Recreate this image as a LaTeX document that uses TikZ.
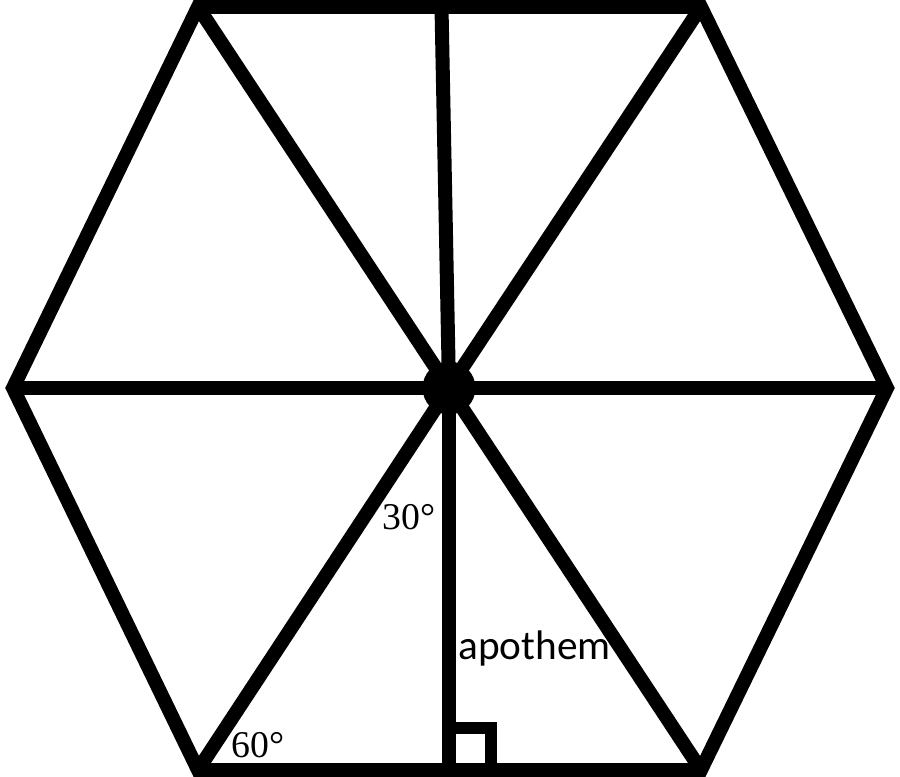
\documentclass[tikz,border=0pt]{standalone}
\usepackage{fontspec}
\setmainfont{Liberation Serif}
\newfontfamily\apofont{Carlito}
\usepackage{tikz}
\usetikzlibrary{shapes,backgrounds}

\tikzset{
	edge/.style={line width=0.28cm},
	hubdot/.style={circle, fill=black, inner sep=0pt, minimum size=1.06cm},
	anglelabel/.style={font=\fontsize{21.5pt}{26pt}\selectfont, inner sep=0pt}
}

\begin{document}
\begin{tikzpicture}[x=0.02cm, y=-0.02cm]
			\useasboundingbox (0, 0) rectangle (900, 777);
			\coordinate (topleft) at (198, 7);
			\coordinate (topright) at (701, 7);
			\coordinate (right) at (887, 388);
			\coordinate (bottomright) at (701, 770);
			\coordinate (bottomleft) at (198, 770);
			\coordinate (left) at (13, 388);
			\coordinate (topmid) at (441.5, 7);
			\coordinate (bottommid) at (449, 770);
			\draw[edge] (topleft) -- (topright) -- (right) -- (bottomright) -- (bottomleft) -- (left) -- cycle;
			\node[hubdot] (hub) at (449, 388) {};
			\foreach \v in {topleft, topright, right, bottomright, bottomleft, left, topmid, bottommid}
			\draw[edge] (hub.center) -- (\v);
			% right angle mark at the foot of the apothem
			\draw[line width=0.23cm] (449, 728) -- (491, 728) -- (491, 770);
			\node[anglelabel] (thirty) at (409, 517) {30°};
			\node[anglelabel] (sixty) at (258, 745) {60°};
			\node[anglelabel, font=\apofont\fontsize{23.5pt}{28pt}\selectfont, anchor=west] (apothem) at (458, 648) {apothem};
		\end{tikzpicture}
\end{document}
